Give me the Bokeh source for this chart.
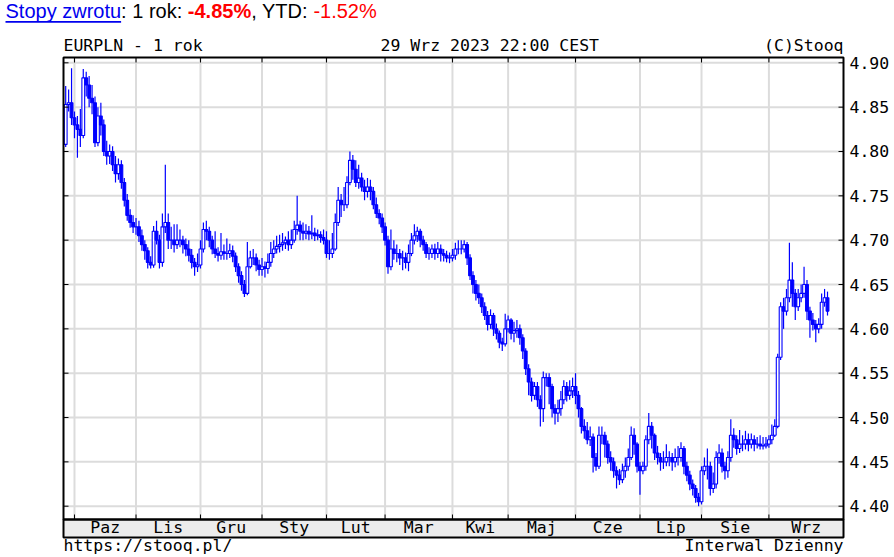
from bokeh.plotting import figure
from bokeh.models import Range1d, ColumnDataSource, Label
from bokeh.embed import file_html
from bokeh.resources import INLINE
from bokeh.core.properties import value

# ---------------- data (EURPLN daily, 1 year) ----------------
first_open = 4.808
close = [
    4.853, 4.855, 4.838, 4.830, 4.825, 4.818, 4.883, 4.875, 4.860, 4.855,
    4.810, 4.840, 4.830, 4.800, 4.795, 4.800, 4.785, 4.775, 4.785, 4.765,
    4.745, 4.728, 4.720, 4.715, 4.715, 4.705, 4.695, 4.688, 4.675, 4.672,
    4.710, 4.700, 4.675, 4.715, 4.720, 4.700, 4.700, 4.695, 4.700, 4.700,
    4.695, 4.690, 4.683, 4.675, 4.670, 4.672, 4.690, 4.712, 4.710, 4.700,
    4.690, 4.685, 4.683, 4.687, 4.685, 4.685, 4.688, 4.682, 4.670, 4.660,
    4.650, 4.640, 4.670, 4.680, 4.680, 4.672, 4.667, 4.670, 4.668, 4.675,
    4.685, 4.690, 4.693, 4.695, 4.697, 4.700, 4.695, 4.700, 4.712, 4.717,
    4.710, 4.708, 4.710, 4.707, 4.708, 4.705, 4.706, 4.703, 4.700, 4.685,
    4.685, 4.690, 4.720, 4.745, 4.740, 4.740, 4.765, 4.790, 4.780, 4.765,
    4.770, 4.760, 4.755, 4.760, 4.755, 4.740, 4.730, 4.725, 4.715, 4.700,
    4.670, 4.690, 4.685, 4.685, 4.680, 4.680, 4.675, 4.685, 4.700, 4.705,
    4.710, 4.700, 4.695, 4.685, 4.685, 4.690, 4.685, 4.690, 4.685, 4.683,
    4.680, 4.680, 4.683, 4.690, 4.690, 4.690, 4.695, 4.680, 4.660, 4.650,
    4.640, 4.635, 4.625, 4.615, 4.605, 4.615, 4.600, 4.595, 4.585, 4.583,
    4.600, 4.610, 4.595, 4.598, 4.600, 4.590, 4.575, 4.555, 4.540, 4.525,
    4.535, 4.520, 4.510, 4.545, 4.545, 4.535, 4.510, 4.505, 4.510, 4.520,
    4.535, 4.525, 4.530, 4.535, 4.525, 4.510, 4.490, 4.485, 4.475, 4.478,
    4.455, 4.445, 4.480, 4.480, 4.470, 4.455, 4.450, 4.440, 4.435, 4.430,
    4.440, 4.445, 4.455, 4.480, 4.470, 4.445, 4.440, 4.445, 4.475, 4.490,
    4.480, 4.460, 4.455, 4.450, 4.450, 4.455, 4.455, 4.450, 4.455, 4.455,
    4.465, 4.445, 4.435, 4.425, 4.420, 4.410, 4.405, 4.440, 4.445, 4.445,
    4.420, 4.425, 4.455, 4.460, 4.445, 4.440, 4.455, 4.480, 4.475, 4.465,
    4.470, 4.470, 4.475, 4.470, 4.475, 4.470, 4.470, 4.468, 4.468, 4.470,
    4.475, 4.480, 4.490, 4.568, 4.625, 4.620, 4.635, 4.655, 4.640, 4.625,
    4.635, 4.640, 4.650, 4.620, 4.610, 4.605, 4.600, 4.605, 4.630, 4.635,
    4.620,
]
high = [
    4.874, 4.870, 4.894, 4.845, 4.840, 4.848, 4.893, 4.890, 4.885, 4.875,
    4.862, 4.850, 4.855, 4.836, 4.812, 4.808, 4.806, 4.795, 4.792, 4.790,
    4.770, 4.752, 4.735, 4.728, 4.725, 4.722, 4.712, 4.700, 4.692, 4.682,
    4.716, 4.722, 4.706, 4.730, 4.785, 4.730, 4.715, 4.718, 4.718, 4.712,
    4.705, 4.702, 4.700, 4.690, 4.680, 4.685, 4.700, 4.720, 4.722, 4.715,
    4.705, 4.710, 4.692, 4.708, 4.695, 4.702, 4.696, 4.694, 4.686, 4.674,
    4.665, 4.655, 4.698, 4.688, 4.690, 4.685, 4.678, 4.680, 4.676, 4.685,
    4.698, 4.700, 4.705, 4.706, 4.708, 4.704, 4.710, 4.712, 4.722, 4.750,
    4.722, 4.720, 4.718, 4.716, 4.728, 4.714, 4.712, 4.710, 4.712, 4.710,
    4.700, 4.708, 4.730, 4.760, 4.752, 4.760, 4.772, 4.800, 4.796, 4.790,
    4.785, 4.776, 4.768, 4.770, 4.768, 4.760, 4.748, 4.735, 4.730, 4.720,
    4.705, 4.712, 4.700, 4.695, 4.690, 4.688, 4.686, 4.695, 4.708, 4.718,
    4.715, 4.713, 4.705, 4.698, 4.692, 4.695, 4.696, 4.698, 4.695, 4.690,
    4.688, 4.686, 4.690, 4.697, 4.700, 4.700, 4.700, 4.698, 4.684, 4.665,
    4.655, 4.650, 4.640, 4.630, 4.620, 4.622, 4.618, 4.606, 4.598, 4.590,
    4.617, 4.615, 4.612, 4.608, 4.610, 4.605, 4.594, 4.578, 4.560, 4.545,
    4.540, 4.540, 4.525, 4.552, 4.550, 4.550, 4.538, 4.515, 4.520, 4.530,
    4.542, 4.540, 4.542, 4.545, 4.550, 4.530, 4.512, 4.498, 4.495, 4.490,
    4.482, 4.460, 4.490, 4.490, 4.484, 4.474, 4.462, 4.455, 4.445, 4.442,
    4.448, 4.455, 4.465, 4.490, 4.488, 4.472, 4.450, 4.450, 4.480, 4.505,
    4.495, 4.482, 4.468, 4.460, 4.462, 4.470, 4.462, 4.460, 4.465, 4.468,
    4.472, 4.468, 4.450, 4.440, 4.430, 4.424, 4.415, 4.445, 4.455, 4.465,
    4.450, 4.438, 4.462, 4.470, 4.465, 4.450, 4.462, 4.498, 4.488, 4.480,
    4.486, 4.480, 4.485, 4.482, 4.482, 4.480, 4.478, 4.480, 4.478, 4.478,
    4.480, 4.492, 4.498, 4.572, 4.630, 4.635, 4.645, 4.697, 4.675, 4.645,
    4.645, 4.650, 4.670, 4.655, 4.625, 4.618, 4.610, 4.612, 4.640, 4.645,
    4.642,
]
low = [
    4.805, 4.845, 4.830, 4.815, 4.793, 4.805, 4.815, 4.862, 4.850, 4.842,
    4.805, 4.806, 4.818, 4.795, 4.785, 4.786, 4.778, 4.765, 4.768, 4.758,
    4.738, 4.722, 4.714, 4.708, 4.706, 4.698, 4.688, 4.678, 4.668, 4.668,
    4.669, 4.695, 4.668, 4.670, 4.708, 4.690, 4.690, 4.686, 4.690, 4.692,
    4.685, 4.682, 4.676, 4.668, 4.660, 4.664, 4.668, 4.686, 4.700, 4.692,
    4.684, 4.680, 4.676, 4.678, 4.678, 4.678, 4.680, 4.675, 4.664, 4.652,
    4.643, 4.636, 4.638, 4.668, 4.672, 4.665, 4.660, 4.660, 4.658, 4.662,
    4.670, 4.680, 4.685, 4.686, 4.688, 4.690, 4.688, 4.690, 4.697, 4.706,
    4.700, 4.700, 4.701, 4.700, 4.701, 4.699, 4.700, 4.697, 4.695, 4.680,
    4.678, 4.680, 4.688, 4.716, 4.726, 4.733, 4.736, 4.762, 4.768, 4.760,
    4.758, 4.755, 4.745, 4.748, 4.745, 4.735, 4.725, 4.718, 4.708, 4.694,
    4.662, 4.666, 4.678, 4.675, 4.672, 4.666, 4.668, 4.665, 4.682, 4.695,
    4.698, 4.692, 4.688, 4.680, 4.678, 4.680, 4.678, 4.680, 4.676, 4.676,
    4.675, 4.674, 4.676, 4.678, 4.684, 4.684, 4.686, 4.672, 4.655, 4.640,
    4.632, 4.628, 4.618, 4.610, 4.598, 4.600, 4.592, 4.588, 4.578, 4.575,
    4.580, 4.596, 4.588, 4.585, 4.590, 4.582, 4.566, 4.548, 4.525, 4.518,
    4.520, 4.512, 4.490, 4.495, 4.535, 4.515, 4.500, 4.492, 4.495, 4.502,
    4.515, 4.518, 4.520, 4.522, 4.515, 4.500, 4.482, 4.476, 4.470, 4.468,
    4.438, 4.440, 4.442, 4.470, 4.455, 4.448, 4.440, 4.432, 4.420, 4.424,
    4.426, 4.432, 4.440, 4.452, 4.458, 4.438, 4.413, 4.436, 4.440, 4.470,
    4.465, 4.452, 4.447, 4.440, 4.442, 4.445, 4.445, 4.440, 4.444, 4.446,
    4.450, 4.436, 4.428, 4.418, 4.412, 4.404, 4.400, 4.402, 4.435, 4.430,
    4.412, 4.415, 4.420, 4.448, 4.438, 4.430, 4.432, 4.450, 4.466, 4.458,
    4.460, 4.462, 4.464, 4.462, 4.465, 4.462, 4.465, 4.464, 4.464, 4.465,
    4.466, 4.470, 4.478, 4.488, 4.565, 4.600, 4.615, 4.630, 4.625, 4.610,
    4.620, 4.630, 4.635, 4.610, 4.590, 4.598, 4.585, 4.595, 4.600, 4.625,
    4.615,
]
month_names = ["Paz", "Lis", "Gru", "Sty", "Lut", "Mar", "Kwi", "Maj", "Cze", "Lip", "Sie", "Wrz"]
month_start = [3, 24, 46, 67, 89, 109, 132, 151, 174, 196, 217, 240]   # trading-day index of 1st day
price_ticks = [4.40, 4.45, 4.50, 4.55, 4.60, 4.65, 4.70, 4.75, 4.80, 4.85, 4.90]

# ---------------- derived table ----------------
n = len(close)
opens = [first_open] + close[:-1]
src = ColumnDataSource(dict(
    x=list(range(n)), h=high, l=low,
    top=[max(o, c) for o, c in zip(opens, close)],
    bot=[min(o, c) for o, c in zip(opens, close)],
    fill=["white" if c >= o else "#0000ff" for o, c in zip(opens, close)],
))

# chart box (price area) in data units and its pixel placement on the page
X0, X1 = -0.75, 265.46          # page x 63 .. 843
Y0, Y1 = 4.385, 4.906           # page y 519 .. 57
KX = 780.0 / (X1 - X0)
KY = 462.0 / (Y1 - Y0)
BLUE = "#0000ff"
MONO = "DejaVu Sans Mono"
SANS = "Liberation Sans"

def px(xp):
    return X0 + (xp - 63.0) / KX

def py(yp):
    return Y1 - (yp - 57.0) / KY

W, H = 894, 557
p = figure(width=W, height=H, output_backend="svg", toolbar_location=None,
           x_range=Range1d(px(0), px(W)), y_range=Range1d(py(H), py(0)),
           x_axis_location=None, y_axis_location=None,
           min_border=0, min_border_left=0, min_border_right=0, min_border_top=0, min_border_bottom=0,
           background_fill_color="white", border_fill_color="white")
p.outline_line_color = None
p.xgrid.visible = False
p.ygrid.visible = False

# grid lines
p.segment(x0=month_start, x1=month_start, y0=[Y0] * len(month_start), y1=[Y1] * len(month_start),
          line_color="#dcdcdc", line_width=2)
p.segment(x0=[X0] * len(price_ticks), x1=[X1] * len(price_ticks), y0=price_ticks, y1=price_ticks,
          line_color="#dcdcdc", line_width=2)

# candles
p.segment(x0="x", y0="l", x1="x", y1="h", source=src, line_color=BLUE, line_width=1.2)
p.vbar(x="x", width=0.95, top="top", bottom="bot", source=src,
       fill_color="fill", line_color=BLUE, line_width=1.1)

# tick marks (inside the box)
tk = 5.0
p.segment(x0=month_start, x1=month_start, y0=[Y0] * 12, y1=[Y0 + tk / KY] * 12, line_color="black", line_width=1)
p.segment(x0=month_start, x1=month_start, y0=[Y1] * 12, y1=[Y1 - tk / KY] * 12, line_color="black", line_width=1)
p.segment(x0=[X0] * len(price_ticks), x1=[X0 + tk / KX] * len(price_ticks), y0=price_ticks, y1=price_ticks,
          line_color="black", line_width=1)
p.segment(x0=[X1] * len(price_ticks), x1=[X1 - tk / KX] * len(price_ticks), y0=price_ticks, y1=price_ticks,
          line_color="black", line_width=1)

# box border and month band
p.quad(left=[X0], right=[X1], top=[Y0], bottom=[py(537)], fill_color="#ececec",
       line_color="black", line_width=2)
p.quad(left=[X0], right=[X1], top=[Y1], bottom=[Y0], fill_color=None,
       line_color="black", line_width=2)

# price labels on the right
p.text(x=[px(849)] * len(price_ticks), y=price_ticks, text=["%.2f" % t for t in price_ticks],
       text_font=value(MONO), text_font_size="16.5px", text_color="black",
       text_align="left", text_baseline="middle")

# month labels in the band
centers = [(month_start[k] + (month_start[k + 1] if k + 1 < 12 else X1)) / 2 for k in range(12)]
p.text(x=centers, y=[py(526.8)] * 12, text=month_names, text_font=value(MONO),
       text_font_size="16.5px", text_color="black", text_align="center", text_baseline="middle")

def lab(xp, yp, txt, align="left", font=MONO, size="16.5px", color="black", style="normal"):
    p.add_layout(Label(x=px(xp), y=py(yp), text=txt, text_align=align, text_baseline="middle",
                       text_font=font, text_font_size=size, text_color=color, text_font_style=style))

lab(63, 44.6, "EURPLN - 1 rok")
lab(380, 44.6, "29 Wrz 2023 22:00 CEST")
lab(843, 44.6, "(C)Stooq", align="right")
lab(63, 545.4, "https://stooq.pl/")
lab(843, 545.4, "Interwal Dzienny", align="right")

lab(5, 10.0, "Stopy zwrotu", font=SANS, size="20px", color="#0000ee")
lab(120.6, 10.0, ": 1 rok: ", font=SANS, size="20px")
lab(187.3, 10.0, "-4.85%", font=SANS, size="20px", color="#ff0000", style="bold")
lab(250.7, 10.0, ", YTD: ", font=SANS, size="20px")
lab(312.9, 10.0, "-1.52%", font=SANS, size="20px", color="#ff0000")
p.quad(left=[px(5)], right=[px(120.6)], top=[py(20.6)], bottom=[py(22.2)],
       fill_color="#0000ee", line_color=None)

open("out.html", "w").write(file_html(p, INLINE))
